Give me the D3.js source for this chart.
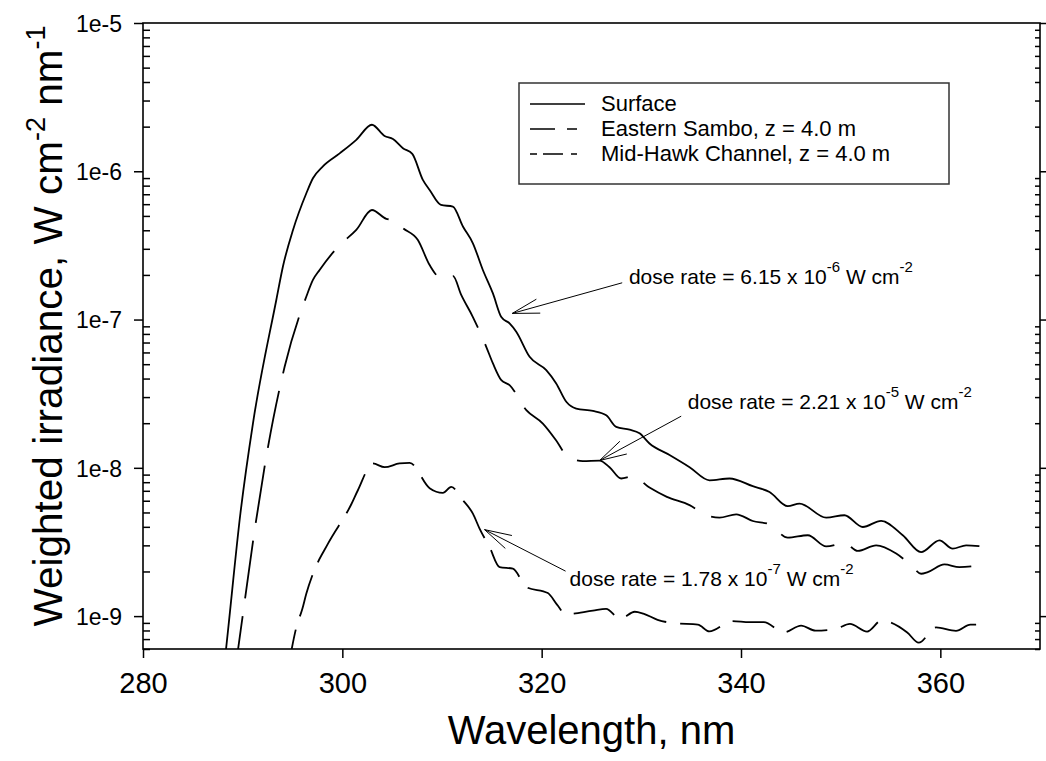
<!DOCTYPE html>
<html>
<head>
<meta charset="utf-8">
<script src="https://cdn.jsdelivr.net/npm/d3@7"></script>
<style>
    body { margin: 0; background: #fff; }
    svg text { font-family: "Liberation Sans", Arial, Helvetica, sans-serif; fill: #000; }
</style>
</head>
<body>
<div id="chart"></div>
<script>
// Wavelength (nm) and weighted irradiance (W cm-2 nm-1)
const surfaceNm = [288.0, 288.53, 289.77, 291.03, 293.38, 294.04, 295.05, 296.39, 297.05, 298.05, 299.73, 301.4, 302.97,
    304.24, 305.08, 306.08, 307.02, 308.08, 308.76, 309.9, 311.09, 312.1, 313.1, 314.1, 315.11, 315.95, 316.78, 317.45,
    318.79, 320.46, 321.46, 322.47, 323.47, 325.14, 326.48, 327.48, 328.82, 329.82, 330.82, 332.83, 334.84, 336.84,
    338.85, 341.18, 342.86, 344.69, 345.87, 348.55, 350.38, 352.22, 354.06, 356.23, 358.07, 359.91, 361.24, 362.59, 363.92];
const surfaceVal = [3.7e-10, 8.0e-10, 4.9e-9, 1.99e-8, 1.36e-7, 2.28e-7, 4.02e-7, 7.11e-7, 8.97e-7, 1.08e-6, 1.32e-6, 1.63e-6, 2.06e-6,
    1.73e-6, 1.65e-6, 1.43e-6, 1.31e-6, 8.75e-7, 7.48e-7, 5.93e-7, 5.78e-7, 4.24e-7, 3.27e-7, 2.16e-7, 1.50e-7, 1.04e-7, 9.42e-8, 8.28e-8,
    5.61e-8, 4.56e-8, 3.71e-8, 2.79e-8, 2.51e-8, 2.42e-8, 2.26e-8, 1.89e-8, 1.81e-8, 1.71e-8, 1.46e-8, 1.22e-8, 1.01e-8, 8.24e-9,
    8.47e-9, 7.52e-9, 6.87e-9, 5.51e-9, 5.74e-9, 4.61e-9, 4.79e-9, 3.99e-9, 4.39e-9, 3.51e-9, 2.70e-9, 3.24e-9, 2.85e-9, 3.00e-9, 2.96e-9];

const samboNm = [289.2, 289.8, 291.2, 292.54, 294.21, 296.39, 297.05, 297.72, 299.73, 301.4, 302.97, 304.41, 305.08, 306.08,
    307.58, 308.76, 309.9, 311.09, 311.94, 313.1, 314.44, 315.11, 315.95, 316.78, 318.46, 320.12, 321.46, 322.47, 324.13,
    325.81, 326.81, 327.98, 329.15, 330.82, 332.56, 334.84, 336.51, 337.84, 339.52, 341.18, 342.86, 344.69, 346.7, 348.55,
    350.38, 351.72, 353.56, 355.57, 357.07, 358.07, 358.74, 360.41, 361.91, 363.92];
const samboVal = [4.1e-10, 8.0e-10, 3.79e-9, 1.38e-8, 4.80e-8, 1.43e-7, 1.85e-7, 2.16e-7, 3.18e-7, 4.02e-7, 5.48e-7, 4.78e-7, 4.70e-7, 4.13e-7,
    3.44e-7, 2.33e-7, 1.91e-7, 1.97e-7, 1.46e-7, 1.04e-7, 6.55e-8, 5.06e-8, 3.90e-8, 3.61e-8, 2.45e-8, 1.99e-8, 1.53e-8, 1.22e-8, 1.11e-8,
    1.12e-8, 1.01e-8, 8.47e-9, 8.77e-9, 7.36e-9, 6.37e-9, 5.60e-9, 4.79e-9, 4.61e-9, 4.86e-9, 4.38e-9, 4.16e-9, 3.38e-9, 3.51e-9, 2.95e-9,
    3.11e-9, 2.75e-9, 3.00e-9, 2.64e-9, 2.20e-9, 1.93e-9, 1.98e-9, 2.23e-9, 2.14e-9, 2.20e-9];

const hawkNm = [294.5, 295.39, 295.99, 296.39, 297.05, 298.56, 300.9, 301.56, 303.07, 304.24, 305.74, 306.75, 308.76, 310.09,
    310.93, 312.1, 313.1, 313.77, 314.77, 315.78, 317.11, 318.46, 320.62, 321.56, 322.43, 325.14, 326.46, 327.89, 329.34,
    330.2, 331.63, 333.37, 335.67, 336.82, 339.13, 340.85, 342.29, 344.3, 346.03, 347.47, 349.49, 350.93, 352.65, 354.09,
    356.68, 357.83, 359.57, 361.57, 363.02, 364.0];
const hawkVal = [4.2e-10, 8.43e-10, 1.12e-9, 1.42e-9, 1.93e-9, 3.08e-9, 5.68e-9, 7.06e-9, 1.07e-8, 1.01e-8, 1.07e-8, 1.08e-8, 7.29e-9, 6.78e-9,
    7.43e-9, 6.04e-9, 4.91e-9, 3.89e-9, 2.92e-9, 2.14e-9, 2.09e-9, 1.57e-9, 1.43e-9, 1.19e-9, 1.03e-9, 1.09e-9, 1.12e-9, 9.59e-10, 1.07e-9,
    1.04e-9, 9.44e-10, 8.95e-10, 8.77e-10, 7.89e-10, 9.25e-10, 9.10e-10, 9.10e-10, 7.76e-10, 8.63e-10, 7.98e-10, 8.18e-10, 8.85e-10, 7.87e-10, 9.33e-10,
    7.76e-10, 6.62e-10, 8.39e-10, 7.96e-10, 8.77e-10, 8.77e-10];

const seriesNames = ["Surface", "Eastern Sambo, z = 4.0 m", "Mid-Hawk Channel, z = 4.0 m"];

// x tick labels and y decades
const xTicks = [280, 300, 320, 340, 360];
const yDecades = [1e-9, 1e-8, 1e-7, 1e-6, 1e-5];
const yLabels = ["1e-9", "1e-8", "1e-7", "1e-6", "1e-5"];

// dose rate notes: mantissa, exponent, arrow tip (nm, value), arrow tail (nm, value), text start (nm, value)
const doseMant = ["6.15", "2.21", "1.78"];
const doseExp = ["-6", "-5", "-7"];
const tipNm = [317.05, 325.81, 314.27];
const tipVal = [1.10e-7, 1.12e-8, 3.83e-9];
const tailNm = [328.08, 334.0, 322.4];
const tailVal = [1.77e-7, 2.23e-8, 2.01e-9];
const noteNm = [328.75, 334.66, 322.8];
const noteVal = [1.75e-7, 2.48e-8, 1.60e-9];

const W = 1046, H = 761;
const margin = { top: 23, right: 6, bottom: 112, left: 143 };
const width = W - margin.left - margin.right;
const height = H - margin.top - margin.bottom;

const svgRoot = d3.select("#chart").append("svg")
    .attr("width", W)
    .attr("height", H);

const svg = svgRoot.append("g")
    .attr("transform", `translate(${margin.left},${margin.top})`);

const x = d3.scaleLinear().domain([280, 370]).range([0, width]);
const y = d3.scaleLog().domain([6e-10, 1e-5]).range([height, 0]);

svg.append("clipPath").attr("id", "plot-clip")
    .append("rect").attr("width", width).attr("height", height);

// minor ticks 2..9 of each decade
const minors = [];
[1e-10, 1e-9, 1e-8, 1e-7, 1e-6].forEach(d => {
    for (let k = 2; k <= 9; k++) {
        const v = d * k;
        if (v >= 6e-10 && v < 1e-5) minors.push(v);
    }
});

// left axis: major outward, minor inward
const yMajor = svg.append("g")
    .call(d3.axisLeft(y).tickValues(yDecades).tickSize(9).tickPadding(12)
        .tickFormat((d, i) => yLabels[i]));
yMajor.select(".domain").remove();
yMajor.selectAll("text").style("font-size", "23px").attr("dy", "0.36em");

const yMinor = svg.append("g")
    .call(d3.axisLeft(y).tickValues(minors).tickSize(-7).tickFormat(""));
yMinor.select(".domain").remove();

// right axis: minor ticks inward, major outward
const yRightMinor = svg.append("g")
    .attr("transform", `translate(${width},0)`)
    .call(d3.axisRight(y).tickValues(minors).tickSize(-5).tickFormat(""));
yRightMinor.select(".domain").remove();
const yRightMajor = svg.append("g")
    .attr("transform", `translate(${width},0)`)
    .call(d3.axisRight(y).tickValues(yDecades).tickSize(9).tickFormat(""));
yRightMajor.select(".domain").remove();

// bottom axis
const xAxis = svg.append("g")
    .attr("transform", `translate(0,${height})`)
    .call(d3.axisBottom(x).tickValues(xTicks).tickSize(9).tickPadding(14).tickFormat(d3.format("d")));
xAxis.select(".domain").remove();
xAxis.selectAll("text").style("font-size", "29px");

svg.selectAll(".tick line").attr("stroke", "#000").attr("stroke-width", 1.5);

// frame
svg.append("rect")
    .attr("width", width)
    .attr("height", height)
    .attr("fill", "none")
    .attr("stroke", "#000")
    .attr("stroke-width", 1.6);

// curves
const line = d3.line()
    .x(d => x(d[0]))
    .y(d => y(d[1]))
    .curve(d3.curveMonotoneX);

const series = [
    { nm: surfaceNm, val: surfaceVal, dash: null },
    { nm: samboNm, val: samboVal, dash: "58,18" },
    { nm: hawkNm, val: hawkVal, dash: "43,14" }
];

const curves = svg.append("g").attr("clip-path", "url(#plot-clip)");
series.forEach(s => {
    curves.append("path")
        .datum(s.nm.map((n, i) => [n, s.val[i]]))
        .attr("fill", "none")
        .attr("stroke", "#000")
        .attr("stroke-width", 1.8)
        .attr("stroke-dasharray", s.dash)
        .attr("d", line);
});

// legend
const legend = svg.append("g").attr("transform", "translate(376,60)");
legend.append("rect")
    .attr("width", 430)
    .attr("height", 101)
    .attr("fill", "#fff")
    .attr("stroke", "#333")
    .attr("stroke-width", 1.5);

const legendDash = [null, "25,12,10,40", "7,6,20,8,6,40"];
seriesNames.forEach((name, i) => {
    const row = legend.append("g").attr("transform", `translate(0,${28 + i * 25})`);
    row.append("line")
        .attr("x1", 11).attr("x2", 66)
        .attr("y1", -7).attr("y2", -7)
        .attr("stroke", "#000")
        .attr("stroke-width", 1.6)
        .attr("stroke-dasharray", legendDash[i]);
    row.append("text")
        .attr("x", 82)
        .attr("y", 0)
        .style("font-size", "22px")
        .text(name);
});

// dose rate notes with arrows
const notes = svg.append("g");
doseMant.forEach((m, i) => {
    const tx = x(tipNm[i]), ty = y(tipVal[i]);
    const sx = x(tailNm[i]), sy = y(tailVal[i]);
    const ang = Math.atan2(sy - ty, sx - tx);
    const len = 28, spread = 15 * Math.PI / 180;
    notes.append("line")
        .attr("x1", sx).attr("y1", sy).attr("x2", tx).attr("y2", ty)
        .attr("stroke", "#000").attr("stroke-width", 1);
    [ang - spread, ang + spread].forEach(a => {
        notes.append("line")
            .attr("x1", tx).attr("y1", ty)
            .attr("x2", tx + len * Math.cos(a)).attr("y2", ty + len * Math.sin(a))
            .attr("stroke", "#000").attr("stroke-width", 1);
    });
    const t = notes.append("text")
        .attr("x", x(noteNm[i]))
        .attr("y", y(noteVal[i]))
        .style("font-size", "21px");
    t.append("tspan").text(`dose rate = ${m} x 10`);
    t.append("tspan").attr("dy", -12).style("font-size", "15px").text(doseExp[i]);
    t.append("tspan").attr("dy", 12).text(" W cm");
    t.append("tspan").attr("dy", -12).style("font-size", "15px").text("-2");
});

// axis titles
svg.append("text")
    .attr("x", width / 2)
    .attr("y", height + 95)
    .attr("text-anchor", "middle")
    .style("font-size", "40px")
    .text("Wavelength, nm");

const yTitle = svg.append("text")
    .attr("transform", `translate(${62 - margin.left},${326 - margin.top}) rotate(-90)`)
    .attr("text-anchor", "middle")
    .style("font-size", "40.5px");
yTitle.append("tspan").text("Weighted irradiance, W cm");
yTitle.append("tspan").attr("dy", -17).style("font-size", "27px").text("-2");
yTitle.append("tspan").attr("dy", 17).text(" nm");
yTitle.append("tspan").attr("dy", -17).style("font-size", "27px").text("-1");
</script>
</body>
</html>
